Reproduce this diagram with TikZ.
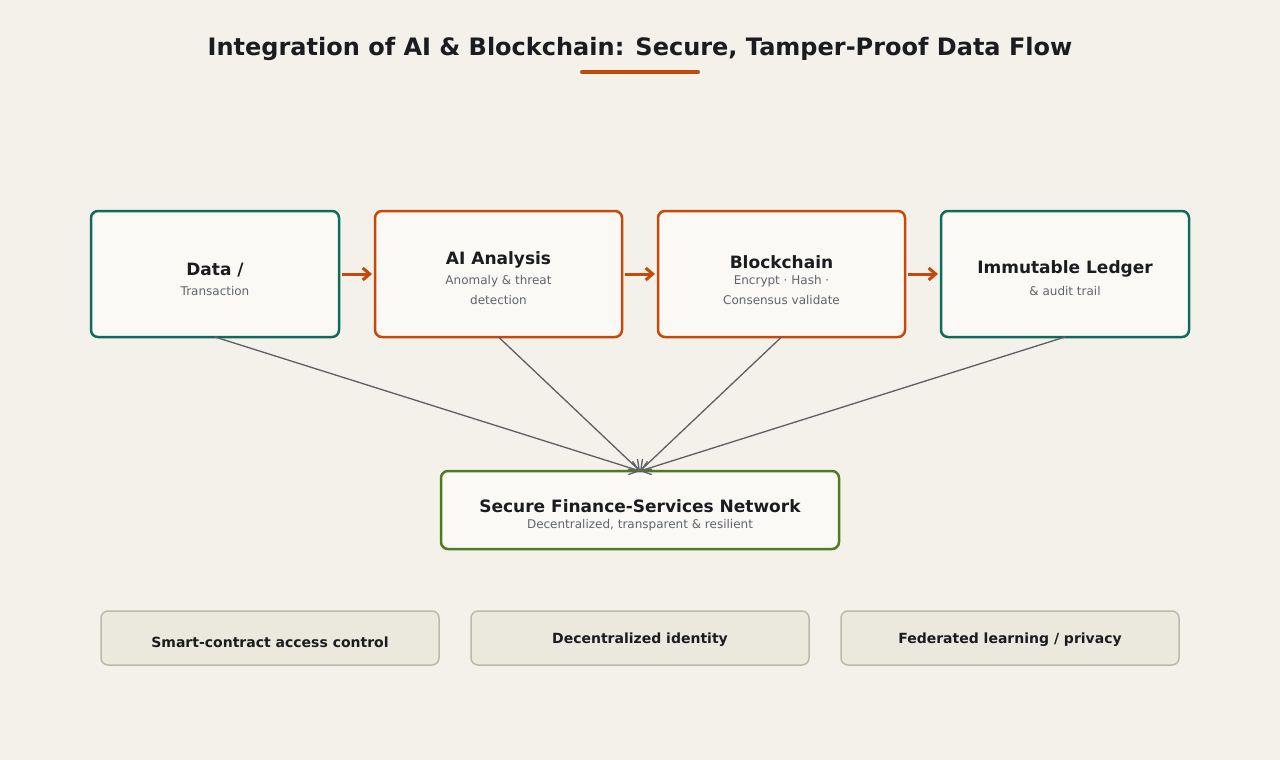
\documentclass[tikz,border=0pt]{standalone}
\usepackage{fontspec}
\setmainfont{DejaVu Sans}
\usetikzlibrary{arrows.meta}
\definecolor{bg}{HTML}{F3F1EA}
\definecolor{teal}{HTML}{0F6B5C}
\definecolor{org}{HTML}{C44A0A}
\definecolor{grn}{HTML}{527A22}
\definecolor{gfill}{HTML}{EBE8DD}
\definecolor{gbord}{HTML}{BDB9AA}
\definecolor{ink}{HTML}{1A1C20}
\definecolor{sub}{HTML}{60646C}
\definecolor{conn}{HTML}{5C5F66}
\definecolor{wfill}{HTML}{FAF9F5}
\begin{document}
\begin{tikzpicture}[x=1pt,y=-1pt,
 box/.style={draw,line width=2.5pt,rounded corners=7pt,fill=wfill},
 ttl/.style={font=\fontsize{17}{20}\selectfont\bfseries,text=ink},
 sb/.style={font=\fontsize{12}{20}\selectfont,text=sub,align=center},
 pill/.style={draw=gbord,line width=1.5pt,fill=gfill,rounded corners=7pt},
 pl/.style={font=\fontsize{14}{16}\selectfont\bfseries,text=ink},
 flow/.style={org,line width=3pt,-{Straight Barb[length=7pt,width=12pt]}},
 fan/.style={conn,line width=1.3pt,-{Straight Barb[length=9pt,width=14pt]}}]
\fill[bg] (0,0) rectangle (1280,760);
\useasboundingbox (0,0) rectangle (1280,760);
\node[font=\fontsize{24}{27}\selectfont\bfseries,text=ink] (title) at (640,48.5) {Integration of AI \& Blockchain: Secure, Tamper-Proof Data Flow};
\draw[org,line width=4pt,line cap=round] (582,72) -- (698,72);
\path[box,draw=teal] (91,211) rectangle (339,337);
\path[box,draw=org] (375,211) rectangle (622,337);
\path[box,draw=org] (658,211) rectangle (905,337);
\path[box,draw=teal] (941,211) rectangle (1189,337);
\path[box,draw=grn] (441,471) rectangle (839,549);
\coordinate (n) at (640,471);
\coordinate (a) at (215,337);
\coordinate (b) at (498.5,337);
\coordinate (c) at (781.5,337);
\coordinate (d) at (1065,337);
\node[ttl] at (215,270) {Data /};
\node[sb] at (215,291) {Transaction};
\node[ttl] at (498.5,260) {AI Analysis};
\node[sb] at (498.5,290) {Anomaly \& threat\\detection};
\node[ttl] at (781.5,262) {Blockchain};
\node[sb] at (781.5,290) {Encrypt · Hash ·\\Consensus validate};
\node[ttl] at (1065,269) {Immutable Ledger};
\node[sb] at (1065,291) {\& audit trail};
\node[ttl] at (640,506) {Secure Finance-Services Network};
\node[sb] at (640,525) {Decentralized, transparent \& resilient};
\draw[flow] (342,274) -- (372,274);
\draw[flow] (625,274) -- (655,274);
\draw[flow] (908,274) -- (938,274);
\draw[fan] (a) -- (n);
\draw[fan] (b) -- (n);
\draw[fan] (c) -- (n);
\draw[fan] (d) -- (n);
\path[pill] (101,611) rectangle (439,665);
\path[pill] (471,611) rectangle (809,665);
\path[pill] (841,611) rectangle (1179,665);
\node[pl] at (270,642) {Smart-contract access control};
\node[pl] at (640,640) {Decentralized identity};
\node[pl] at (1010,640) {Federated learning / privacy};
\end{tikzpicture}
\end{document}
